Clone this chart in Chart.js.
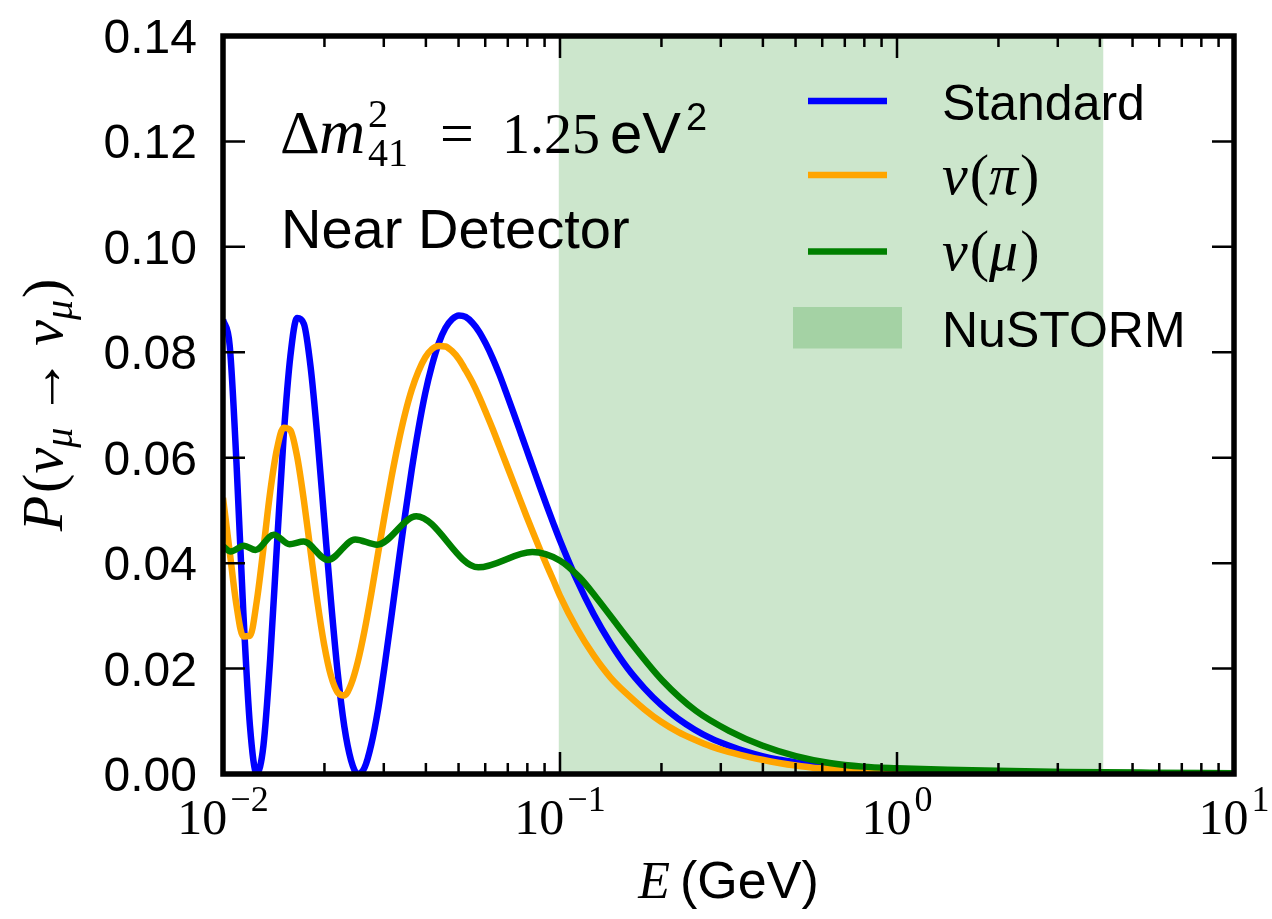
<!DOCTYPE html>
<html>
<head>
<meta charset="utf-8">
<script src="https://cdn.jsdelivr.net/npm/chart.js@4.4.1/dist/chart.umd.min.js"></script>
<style>
  html, body { margin: 0; padding: 0; background: #fff; }
  #wrap { width: 1272px; height: 919px; }
</style>
</head>
<body>
<div id="wrap"><canvas id="probChart" width="1272" height="919"></canvas></div>
<script>
// energy grid (GeV) shared by the Standard and nu(pi) curves
const energyGrid = [
  0.01, 0.010471, 0.010965, 0.011482, 0.012023, 0.012589, 0.013183, 0.013804, 0.014454, 0.015136,
  0.015849, 0.016596, 0.017378, 0.018197, 0.019055, 0.019953, 0.020893, 0.021878, 0.022909, 0.023988,
  0.025119, 0.026303, 0.027542, 0.028840, 0.030200, 0.031623, 0.033113, 0.034674, 0.036308, 0.038019,
  0.039811, 0.041687, 0.043652, 0.045709, 0.047863, 0.050119, 0.052481, 0.054954, 0.057544, 0.060256,
  0.063096, 0.066069, 0.069183, 0.072444, 0.075858, 0.079433, 0.083176, 0.087096, 0.091201, 0.095499,
  0.1,
  0.11220, 0.12589, 0.14125, 0.15849, 0.17783, 0.19953, 0.22387, 0.25119, 0.28184, 0.31623,
  0.35481, 0.39811, 0.44668, 0.50119, 0.56234, 0.63096, 0.70795, 0.79433, 0.89125, 1.0,
  1.1220, 1.2589, 1.4125, 1.5849, 1.7783, 1.9953, 2.2387, 2.5119, 2.8184, 3.1623,
  3.5481, 3.9811, 4.4668, 5.0119, 5.6234, 6.3096, 7.0795, 7.9433, 8.9125, 10
];

const standardProb = [
  0.0862, 0.0812, 0.0590, 0.0311, 0.0091, 0.0001, 0.0054, 0.0218, 0.0433, 0.0641,
  0.0793, 0.0865, 0.0854, 0.0772, 0.0640, 0.0485, 0.0331, 0.0194, 0.0090, 0.0026,
  0.0000, 0.0012, 0.0056, 0.0122, 0.0207, 0.0300, 0.0396, 0.0490, 0.0577, 0.0655,
  0.0722, 0.0775, 0.0817, 0.0846, 0.0863, 0.0870, 0.0867, 0.0856, 0.0839, 0.0816,
  0.0789, 0.0758, 0.0724, 0.0689, 0.0653, 0.0617, 0.0581, 0.0545, 0.0510, 0.0476,
  0.0443,
  0.0368, 0.0303, 0.0248, 0.0201, 0.0163, 0.0131, 0.0105, 0.0084, 0.0067, 0.0054,
  0.0043, 0.0034, 0.0027, 0.0022, 0.0017, 0.0014, 0.0011, 0.0009, 0.0007, 0.0006,
  0.0004, 0.0004, 0.0003, 0.0002, 0.0002, 0.0001, 0.0001, 0.0001, 0.0001, 0.0001,
  0, 0, 0, 0, 0, 0, 0, 0, 0, 0
];

const pionProb = [
  0.0524, 0.0421, 0.0320, 0.0261, 0.0262, 0.0327, 0.0428, 0.0535, 0.0616, 0.0657,
  0.0652, 0.0602, 0.0519, 0.0422, 0.0327, 0.0246, 0.0187, 0.0155, 0.0149, 0.0170,
  0.0213, 0.0272, 0.0342, 0.0418, 0.0492, 0.0563, 0.0627, 0.0683, 0.0729, 0.0764,
  0.0790, 0.0806, 0.0812, 0.0811, 0.0802, 0.0787, 0.0766, 0.0743, 0.0716, 0.0686,
  0.0655, 0.0622, 0.0589, 0.0556, 0.0523, 0.0490, 0.0458, 0.0427, 0.0397, 0.0368,
  0.0338,
  0.0276, 0.0225, 0.0183, 0.0151, 0.0123, 0.0099, 0.0080, 0.0065, 0.0052, 0.0042,
  0.0034, 0.0027, 0.0021, 0.0016, 0.0012, 0.0010, 0.0008, 0.0006, 0.0005, 0.0004,
  0.0003, 0.0003, 0.0002, 0.0002, 0.0001, 0.0001, 0.0001, 0.0001, 0, 0,
  0, 0, 0, 0, 0, 0, 0, 0, 0, 0
];

// nu(mu) curve read at its own turning points
const muonEnergy = [
  0.0100, 0.01054, 0.01154, 0.01249, 0.01415, 0.01575, 0.01735, 0.02047, 0.02468, 0.02866,
  0.03746, 0.05722, 0.08277, 0.09979, 0.1143, 0.1281, 0.1607, 0.2016, 0.2530, 0.3174,
  0.398, 0.501, 0.631, 0.794, 1.0, 1.413, 1.995, 3.162, 5.623, 10
];
const muonProb = [
  0.0432, 0.0422, 0.0433, 0.0425, 0.0454, 0.0436, 0.0441, 0.0406, 0.0445, 0.0435,
  0.0489, 0.0392, 0.0421, 0.0405, 0.0373, 0.0335, 0.0253, 0.0177, 0.0120, 0.0082,
  0.0054, 0.0034, 0.0021, 0.0014, 0.0011, 0.0008, 0.0006, 0.0004, 0.00025, 0.00015
];

const nustormRange = [0.099, 4.1];
const yTicks = [0, 0.02, 0.04, 0.06, 0.08, 0.10, 0.12, 0.14];
const yTickLabels = ["0.00", "0.02", "0.04", "0.06", "0.08", "0.10", "0.12", "0.14"];
const xDecades = [0.01, 0.1, 1, 10];
const xDecadeExponents = ["\u22122", "\u22121", "0", "1"];

const SANS = '"Liberation Sans", Arial, sans-serif';
const SERIF = '"Liberation Serif", "DejaVu Serif", serif';

function toPoints(xs, ys) {
  return xs.map((x, i) => ({ x: x, y: ys[i] }));
}

// draw a run of text pieces with different fonts / offsets
function drawParts(ctx, parts, x, y, align) {
  const widths = parts.map(p => {
    ctx.font = p.font;
    return p.noAdvance ? 0 : ctx.measureText(p.text).width + (p.gap || 0);
  });
  const total = widths.reduce((a, b) => a + b, 0);
  let cx = align === "center" ? x - total / 2 : (align === "right" ? x - total : x);
  ctx.textAlign = "left";
  ctx.textBaseline = "alphabetic";
  parts.forEach((p, i) => {
    ctx.font = p.font;
    ctx.fillText(p.text, cx + (p.dx || 0), y + (p.dy || 0));
    cx += widths[i];
  });
  return total;
}

const frameAndText = {
  id: "frameAndText",
  afterDatasetsDraw(chart) {
    const ctx = chart.ctx;
    const area = chart.chartArea;
    const xs = chart.scales.x;
    const ys = chart.scales.y;
    ctx.save();
    ctx.fillStyle = "#000";
    ctx.strokeStyle = "#000";

    // ticks (inward, all four sides)
    ctx.lineWidth = 2.5;
    ctx.beginPath();
    xDecades.forEach((d, i) => {
      const px = xs.getPixelForValue(d);
      ctx.moveTo(px, area.bottom); ctx.lineTo(px, area.bottom - 22);
      ctx.moveTo(px, area.top); ctx.lineTo(px, area.top + 22);
      if (i < xDecades.length - 1) {
        for (let k = 2; k <= 9; k++) {
          const mx = xs.getPixelForValue(d * k);
          ctx.moveTo(mx, area.bottom); ctx.lineTo(mx, area.bottom - 11);
          ctx.moveTo(mx, area.top); ctx.lineTo(mx, area.top + 11);
        }
      }
    });
    yTicks.forEach(v => {
      const py = ys.getPixelForValue(v);
      ctx.moveTo(area.left, py); ctx.lineTo(area.left + 22, py);
      ctx.moveTo(area.right, py); ctx.lineTo(area.right - 22, py);
    });
    ctx.stroke();

    // frame
    ctx.lineWidth = 5.5;
    ctx.strokeRect(area.left, area.top, area.right - area.left, area.bottom - area.top);

    // y tick labels
    ctx.font = "48px " + SANS;
    ctx.textAlign = "right";
    ctx.textBaseline = "alphabetic";
    yTicks.forEach((v, i) => {
      ctx.fillText(yTickLabels[i], area.left - 26, ys.getPixelForValue(v) + 17);
    });

    // x tick labels 10^n
    xDecades.forEach((d, i) => {
      drawParts(ctx, [
        { text: "10", font: "50px " + SERIF, gap: 3 },
        { text: xDecadeExponents[i], font: "36px " + SERIF, dy: -23 }
      ], xs.getPixelForValue(d), 834, "center");
    });

    // x title
    drawParts(ctx, [
      { text: "E", font: "italic 52px " + SERIF, gap: 10 },
      { text: "(GeV)", font: "52px " + SANS }
    ], (area.left + area.right) / 2, 898, "center");

    // y title, rotated
    ctx.save();
    ctx.translate(62, (area.top + area.bottom) / 2);
    ctx.rotate(-Math.PI / 2);
    drawParts(ctx, [
      { text: "P", font: "italic 58px " + SERIF, gap: 3 },
      { text: "(", font: "58px " + SERIF },
      { text: "\u03bd", font: "italic 58px " + SERIF },
      { text: "\u03bc", font: "italic 40px " + SERIF, dy: 10, gap: 12 },
      { text: "\u2192", font: "58px " + SERIF, gap: 12 },
      { text: "\u03bd", font: "italic 58px " + SERIF },
      { text: "\u03bc", font: "italic 40px " + SERIF, dy: 10, gap: 2 },
      { text: ")", font: "58px " + SERIF }
    ], 0, 0, "center");
    ctx.restore();

    // annotation, pieces placed where the reference sets them
    ctx.textAlign = "left";
    ctx.textBaseline = "alphabetic";
    ctx.font = "62px " + SERIF;
    ctx.fillText("\u0394", 280, 153);
    ctx.font = "italic 64px " + SERIF;
    ctx.fillText("m", 319, 153);
    ctx.font = "40px " + SERIF;
    ctx.fillText("2", 368, 127);
    ctx.fillText("41", 368, 166);
    ctx.font = "60px " + SERIF;
    ctx.fillText("=", 440, 153);
    ctx.font = "56px " + SERIF;
    ctx.fillText("1.25", 502, 153);
    ctx.font = "58px " + SANS;
    ctx.fillText("eV", 610, 153);
    ctx.font = "38px " + SANS;
    ctx.fillText("2", 686, 130);
    ctx.font = "56px " + SANS;
    ctx.fillText("Near Detector", 281, 248);

    // legend
    const legendRows = [
      { color: "#0000ff", base: 119.5, parts: [{ text: "Standard", font: "50px " + SANS }] },
      { color: "#ffa500", base: 193.5, parts: [
        { text: "\u03bd", font: "italic 58px " + SERIF, gap: 2 },
        { text: "(", font: "58px " + SERIF },
        { text: "\u03c0", font: "italic 58px " + SERIF, gap: 2 },
        { text: ")", font: "58px " + SERIF }] },
      { color: "#008000", base: 270, parts: [
        { text: "\u03bd", font: "italic 58px " + SERIF, gap: 2 },
        { text: "(", font: "58px " + SERIF },
        { text: "\u03bc", font: "italic 58px " + SERIF, gap: 2 },
        { text: ")", font: "58px " + SERIF }] }
    ];
    legendRows.forEach(r => {
      ctx.strokeStyle = r.color;
      ctx.lineWidth = 6.5;
      ctx.beginPath();
      ctx.moveTo(808, r.base - 18.5);
      ctx.lineTo(887, r.base - 18.5);
      ctx.stroke();
      ctx.fillStyle = "#000";
      drawParts(ctx, r.parts, 942, r.base, "left");
    });
    ctx.fillStyle = "rgba(0,128,0,0.2)";
    ctx.fillRect(793, 307, 109, 41.5);
    ctx.fillStyle = "#000";
    ctx.font = "50px " + SANS;
    ctx.textAlign = "left";
    ctx.fillText("NuSTORM", 942, 346.5);

    ctx.restore();
  }
};

const ctx = document.getElementById("probChart").getContext("2d");
new Chart(ctx, {
  type: "line",
  data: {
    datasets: [
      {
        label: "NuSTORM",
        data: [{ x: nustormRange[0], y: 0.14 }, { x: nustormRange[1], y: 0.14 }],
        borderColor: "rgba(0,0,0,0)",
        borderWidth: 0,
        backgroundColor: "rgba(0,128,0,0.2)",
        fill: "origin",
        pointRadius: 0,
        order: 4
      },
      {
        label: "Standard",
        data: toPoints(energyGrid, standardProb),
        borderColor: "#0000ff",
        borderWidth: 6.5,
        pointRadius: 0,
        fill: false,
        cubicInterpolationMode: "monotone",
        order: 3
      },
      {
        label: "nu(pi)",
        data: toPoints(energyGrid, pionProb),
        borderColor: "#ffa500",
        borderWidth: 6.5,
        pointRadius: 0,
        fill: false,
        cubicInterpolationMode: "monotone",
        order: 2
      },
      {
        label: "nu(mu)",
        data: toPoints(muonEnergy, muonProb),
        borderColor: "#008000",
        borderWidth: 6.5,
        pointRadius: 0,
        fill: false,
        cubicInterpolationMode: "monotone",
        order: 1
      }
    ]
  },
  options: {
    responsive: false,
    animation: false,
    devicePixelRatio: 1,
    layout: { padding: { left: 223, top: 36, right: 38, bottom: 145 } },
    plugins: { legend: { display: false }, tooltip: { enabled: false } },
    scales: {
      x: { type: "logarithmic", min: 0.01, max: 10, display: false },
      y: { type: "linear", min: 0, max: 0.14, display: false }
    }
  },
  plugins: [frameAndText]
});
</script>
</body>
</html>
